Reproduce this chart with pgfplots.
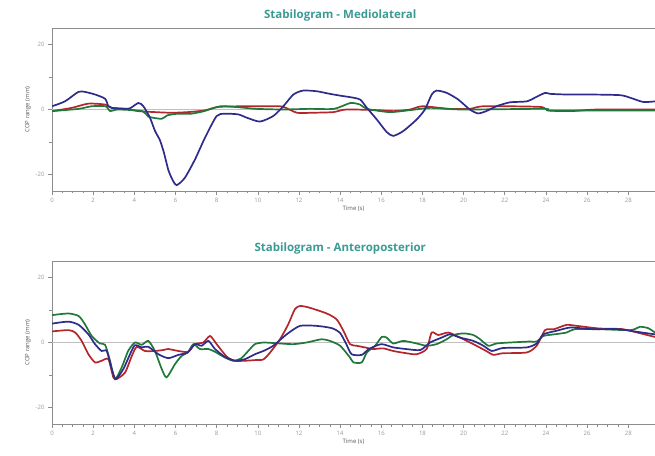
\documentclass[border=0pt]{standalone}
\usepackage{fontspec}
\setmainfont{Open Sans}
\usepackage{pgfplots}
\pgfplotsset{compat=1.18}
\definecolor{ttl}{HTML}{3A9A94}
\definecolor{cblue}{HTML}{2E2C8A}
\definecolor{cred}{HTML}{B3262B}
\definecolor{cgreen}{HTML}{22783A}
\definecolor{axg}{HTML}{8C8C8C}
\pgfplotsset{
  stab/.style={
    scale only axis, width=603pt, height=163pt,
    xmin=0, xmax=29.3, ymin=-25, ymax=25,
    axis x line*=box, axis y line*=left,
    axis line style={axg, line width=0.8pt},
    xtick={0,2,...,28}, minor x tick num=3,
    ytick={-20,0,20}, minor ytick={-10,10},
    xtick pos=bottom, ytick pos=left,
    tick align=outside,
    major tick length=4pt, minor tick length=2.5pt,
    every tick/.style={axg, line width=0.6pt},
    /pgf/number format/assume math mode=true,
    tick label style={font=\fontsize{6}{7}\selectfont, text=gray!80},
    xlabel={Time (s)}, ylabel={COP range (mm)},
    label style={font=\fontsize{6}{7}\selectfont, text=gray!70!black},
    xlabel style={at={(rel axis cs:0.5,0)}, anchor=north, yshift=-12pt},
    ylabel style={yshift=-2pt},
    title style={font=\fontsize{11.5}{13}\selectfont\bfseries, text=ttl, at={(0.478,1)}, anchor=south, yshift=-3pt},
    every axis plot/.append style={line width=1.7pt, smooth, tension=0.4},
    clip=true,
  }
}
\begin{document}
\begin{tikzpicture}[x=1pt,y=1pt]
\useasboundingbox (0,0) rectangle (655,455);
% ---------- Mediolateral ----------
\begin{axis}[stab, at={(52pt,264pt)}, anchor=south west, title={Stabilogram - Mediolateral}]
\addplot[gray!50, line width=0.6pt, sharp plot] coordinates {(0,0) (29.3,0)};
\addplot[cred] coordinates {
(0,-0.5) (0.96,0.5) (1.77,1.8) (2.6,1.5) (2.9,0.5) (3.6,0.2) (4.2,-0.5) (5.0,-0.8) (5.8,-1.0) (6.6,-0.8) (7.4,-0.3) (8.1,0.8) (9.4,1.0) (10.5,1.0) (11.2,0.9) (11.9,-1.0) (12.6,-1.0) (13.67,-0.8) (14.3,0) (15.8,-0.2) (16.6,-0.5) (17.4,0) (18.0,1.0) (19.3,0.2) (20.3,0.2) (21.0,1.0) (23.7,0.8) (24.1,-0.3) (25.2,-0.5) (26.5,0) (29.3,0)};
\addplot[cgreen] coordinates {
(0,-0.5) (1.3,0.2) (1.93,1.0) (2.6,1.0) (2.83,-0.5) (3.2,0) (4.4,-0.5) (4.68,-2.2) (5.33,-2.85) (5.6,-1.8) (6.1,-1.3) (6.75,-1.3) (7.4,-0.5) (8.2,1.0) (9.4,0.5) (9.9,0.2) (11.2,0) (12.5,0.2) (13.7,0.2) (14.5,2.0) (14.97,1.5) (15.3,0.2) (16.4,-0.8) (17.4,-0.2) (18.4,0.5) (19.9,0) (23.9,0.2) (24.3,-0.3) (29.3,-0.3)};
\addplot[cblue] coordinates {
(0,1.0) (0.63,2.5) (1.28,5.4) (1.6,5.4) (2.09,4.6) (2.58,3.3) (2.74,1.0) (2.9,0.5) (3.55,0.2) (3.8,0.4) (4.2,2.0) (4.44,1.0) (4.76,-2.5) (5.0,-6.5) (5.25,-9.5) (5.45,-13.5) (5.65,-18.5) (5.85,-21.5) (6.06,-23.2) (6.46,-20.9) (6.95,-15.3) (7.43,-8.7) (8.0,-2.0) (8.4,-1.3) (9.05,-1.5) (9.46,-2.5) (10.1,-3.7) (10.75,-2.0) (11.24,1.0) (11.73,4.6) (12.2,5.8) (12.86,5.6) (13.5,4.8) (14.15,4.1) (14.48,3.8) (14.97,3.05) (15.3,0.5) (15.78,-3.05) (16.26,-6.9) (16.58,-8.1) (17.07,-6.6) (17.72,-3.05) (18.12,0) (18.45,4.6) (18.69,5.8) (19.18,5.1) (19.74,3.05) (20.3,0) (20.7,-1.2) (21.1,-0.5) (21.6,1.0) (22.25,2.2) (23.07,2.5) (23.55,3.9) (23.96,5.1) (24.2,4.8) (25.0,4.6) (26.1,4.6) (27.6,4.4) (28.1,3.6) (28.73,2.3) (29.3,2.5)};
\end{axis}
% ---------- Anteroposterior ----------
\begin{axis}[stab, at={(52pt,31pt)}, anchor=south west, title={Stabilogram - Anteroposterior}]
\addplot[gray!50, line width=0.8pt, sharp plot] coordinates {(0,0) (29.3,0)};
\addplot[cgreen] coordinates {
(0,8.4) (0.8,8.9) (1.3,8.1) (1.6,5.6) (1.93,2.0) (2.33,-0.3) (2.58,-0.7) (2.82,-5.6) (3.06,-11.2) (3.39,-7.6) (3.7,-2.6) (4.03,0) (4.36,-0.7) (4.68,0.5) (5.0,-2.6) (5.33,-8.1) (5.57,-10.7) (5.98,-6.6) (6.3,-4.1) (6.6,-3.05) (6.87,-0.5) (7.19,-2.0) (7.6,-2.0) (7.92,-2.85) (8.4,-4.6) (8.81,-5.6) (9.2,-4.8) (9.62,-2.0) (9.86,-0.5) (10.27,0) (11.08,-0.3) (11.73,-0.5) (12.37,0) (13.1,1.0) (13.5,0.5) (14.0,-1.0) (14.48,-4.6) (14.65,-6.1) (15.05,-6.1) (15.3,-3.05) (15.7,-1.0) (16.02,1.7) (16.26,1.5) (16.58,-0.3) (17.07,0.5) (17.72,-0.3) (18.2,-1.0) (18.69,-0.5) (19.18,1.0) (19.5,2.3) (20.0,2.8) (20.47,2.3) (20.8,1.0) (21.2,-1.0) (21.6,-0.3) (22.25,0) (23.2,0.3) (23.55,0.3) (23.88,2.0) (24.4,2.5) (25.0,3.05) (25.4,4.1) (26.5,4.1) (28.1,3.8) (28.57,4.8) (28.97,4.4) (29.3,3.05)};
\addplot[cred] coordinates {
(0,3.4) (0.8,3.8) (1.13,3.05) (1.44,0.5) (1.77,-3.6) (2.09,-6.1) (2.41,-5.6) (2.74,-5.1) (2.98,-10.7) (3.14,-11.2) (3.55,-9.2) (3.88,-4.1) (4.12,-1.3) (4.52,-2.6) (5.0,-2.6) (5.41,-2.3) (5.65,-2.0) (6.14,-2.6) (6.6,-2.85) (6.95,-0.5) (7.35,0) (7.68,2.0) (8.0,-0.5) (8.5,-4.4) (8.9,-5.6) (9.38,-5.6) (9.86,-5.4) (10.27,-5.2) (10.6,-3.05) (11.08,1.0) (11.48,5.6) (11.8,10.2) (12.05,11.2) (12.5,10.7) (13.35,8.9) (13.83,7.1) (14.16,3.6) (14.48,-0.5) (14.8,-1.0) (15.2,-1.5) (15.6,-2.0) (16.1,-1.8) (16.58,-2.6) (17.23,-3.3) (17.72,-3.6) (18.2,-2.0) (18.45,3.05) (18.77,2.3) (19.26,3.05) (19.83,1.5) (20.47,-0.5) (21.1,-2.6) (21.45,-3.8) (21.9,-3.3) (23.07,-3.05) (23.55,-1.0) (23.96,3.8) (24.4,4.1) (25.0,5.4) (25.5,5.1) (26.6,4.3) (27.7,4.1) (28.6,2.8) (29.3,1.7)};
\addplot[cblue] coordinates {
(0,5.8) (0.8,6.4) (1.3,5.4) (1.77,2.5) (2.09,-0.5) (2.41,-2.6) (2.66,-2.6) (2.9,-8.1) (3.1,-11.2) (3.47,-8.1) (3.79,-3.6) (4.03,-0.8) (4.36,-1.5) (4.68,-1.3) (5.17,-3.6) (5.65,-4.8) (6.14,-3.8) (6.6,-3.05) (6.95,-0.5) (7.27,-1.0) (7.6,0.5) (7.92,-2.0) (8.4,-4.4) (8.89,-5.6) (9.38,-5.1) (9.86,-3.6) (10.27,-2.6) (10.75,-1.0) (11.4,2.5) (12.05,5.1) (12.86,5.1) (13.6,4.4) (14.0,2.9) (14.3,-0.5) (14.56,-3.6) (15.05,-3.8) (15.4,-2.0) (16.0,-0.5) (16.58,-1.5) (17.2,-2.0) (17.9,-2.3) (18.37,0) (18.93,1.5) (19.34,2.5) (19.83,1.5) (20.47,0.5) (20.96,-1.0) (21.37,-2.6) (21.9,-1.7) (23.07,-1.5) (23.55,-0.3) (23.88,2.5) (24.52,3.6) (25.2,4.6) (26.2,4.1) (27.5,4.1) (28.4,3.3) (29.3,2.5)};
\end{axis}
\end{tikzpicture}
\end{document}
